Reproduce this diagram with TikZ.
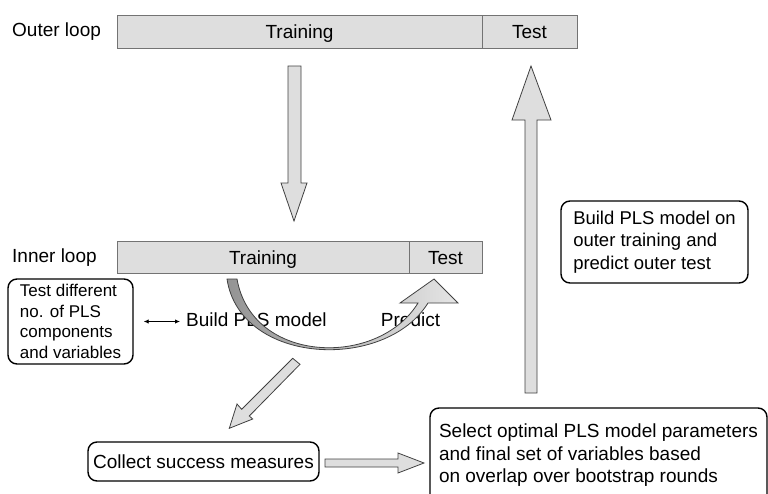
\documentclass[tikz,border=0pt]{standalone}
\usepackage{fontspec}
\setmainfont{Liberation Sans}
\usetikzlibrary{arrows.meta}
\begin{document}
\begin{tikzpicture}[x=1pt,y=-1pt,
  bar/.style={draw=black!55, fill=black!13, line width=0.8pt, inner sep=0pt,
    minimum height=33pt, text height=14pt, text depth=0pt,
    font=\fontsize{19}{22}\selectfont},
  blockarrow/.style={draw=black!75, fill=black!13, line width=0.8pt, line join=miter},
  roundbox/.style={draw=black, line width=1.4pt, rounded corners=9pt, inner sep=0pt},
  lbl/.style={font=\fontsize{19}{22}\selectfont, inner sep=0pt},
  dbl/.style={{Latex[length=5pt,width=4.5pt]}-{Latex[length=5pt,width=4.5pt]}, line width=0.9pt}]
\useasboundingbox (0,0) rectangle (768,493);
\clip (0,0) rectangle (768,493);

% outer loop
\node[lbl, anchor=west] (outerlbl) at (12,32) {Outer loop};
\node[bar, minimum width=365pt] (otrain) at (299.5,31.5) {Training};
\node[bar, minimum width=95pt] (otest) at (529.5,31.5) {Test};

% inner loop
\node[lbl, anchor=west] (innerlbl) at (12,258) {Inner loop};
\node[bar, minimum width=292pt, minimum height=32pt] (itrain) at (263,257) {Training};
\node[bar, minimum width=73pt, minimum height=32pt] (itest) at (445.5,257) {Test};

% boxes
\node[roundbox, font=\fontsize{17}{20.7}\selectfont, align=left,
  minimum width=125pt, minimum height=85pt] (testdiff) at (70.5,321.5)
  {Test different\\no. of PLS\\components\\and variables};
\node[lbl, anchor=west] (buildlbl) at (186,320) {Build PLS model};
\node[lbl] (predict) at (410.5,320) {Predict};
\node[roundbox, font=\fontsize{18.5}{22.5}\selectfont, align=left,
  minimum width=187pt, minimum height=82pt] (buildouter) at (654.5,242)
  {Build PLS model on\\outer training and\\predict outer test};
\node[roundbox, font=\fontsize{19}{22}\selectfont,
  minimum width=231pt, minimum height=39pt] (collect) at (203.5,461.5)
  {Collect success measures};
\node[roundbox, font=\fontsize{19}{22.5}\selectfont, align=left,
  minimum width=337pt, minimum height=95pt] (select) at (598.5,455.5)
  {Select optimal PLS model parameters\\and final set of variables based\\on overlap over bootstrap rounds};

% double arrow
\coordinate (da) at ([xshift=10pt]testdiff.east);
\draw[dbl, shorten >=6pt] (da) -- (da -| buildlbl.west);

% block arrows
\draw[blockarrow] (288,66) -- (301,66) -- (301,183) -- (307,183) -- (294,221)
  -- (281,183) -- (288,183) -- cycle;
\draw[blockarrow] (525,393) -- (525,120) -- (512,120) -- (531,66) -- (551,120)
  -- (537,120) -- (537,393) -- cycle;
\draw[blockarrow] (325,459) -- (398,459) -- (398,453) -- (424,463) -- (398,473)
  -- (398,467) -- (325,467) -- cycle;
\draw[blockarrow] (292.7,358.3) -- (300,364.3) -- (249.3,416) -- (252.7,419)
  -- (229.3,428.3) -- (237,404) -- (241.7,409.3) -- cycle;

% curved arrow
\path[draw=black!75, line width=0.8pt, line join=miter, left color=black!42, right color=black!10]
  (227,279) .. controls (240,365) and (385,372) .. (428,303)
  -- (458,303) -- (434,279) -- (400,303) -- (418,303)
  .. controls (378,368) and (252,364) .. (237,279) -- cycle;
\end{tikzpicture}
\end{document}
